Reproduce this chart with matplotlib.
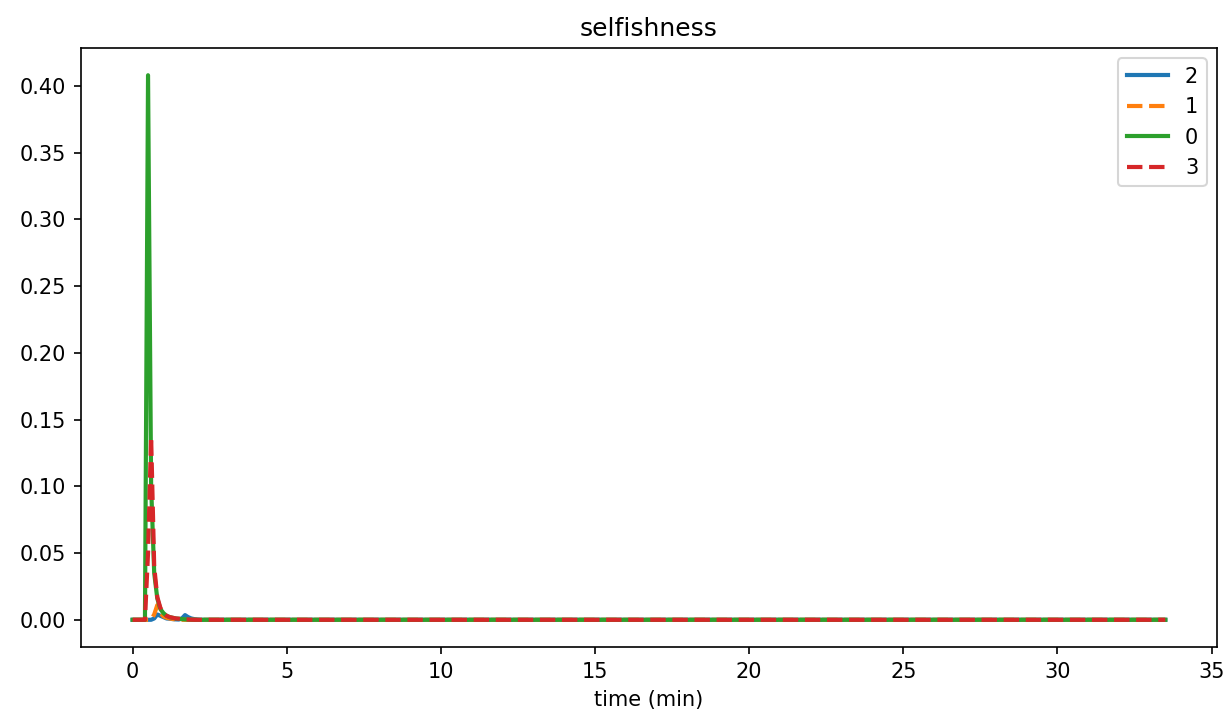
import numpy as np
import matplotlib
matplotlib.use("Agg")
import matplotlib.pyplot as plt

# time axis (min), sampled every 0.1 min
t_end = 33.5
dt = 0.1

# early part of each series (t = 0.0 ... 2.4), everything after reads as 0
sel_2 = [0, 0, 0, 0, 0, 0, 0, 0.001, 0.004, 0.003, 0.002, 0.001, 0.0008, 0.0005, 0.0003,
         0.0002, 0.001, 0.0035, 0.002, 0.001, 0.0005, 0.0002, 0, 0, 0]
sel_1 = [0, 0, 0, 0, 0, 0, 0, 0.004, 0.011, 0.005, 0.0025, 0.0015, 0.001, 0.0006, 0.0003,
         0.0002, 0, 0, 0, 0, 0, 0, 0, 0, 0]
sel_0 = [0, 0, 0, 0, 0, 0.408, 0.10, 0.035, 0.016, 0.008, 0.005, 0.003, 0.002, 0.0015, 0.001,
         0.0008, 0.0005, 0.0003, 0.0002, 0.0001, 0, 0, 0, 0, 0]
sel_3 = [0, 0, 0, 0, 0, 0.05, 0.137, 0.04, 0.017, 0.009, 0.005, 0.003, 0.002, 0.0015, 0.001,
         0.0008, 0.0005, 0.0003, 0.0002, 0.0001, 0, 0, 0, 0, 0]

labels = ['2', '1', '0', '3']
styles = ['-', '--', '-', '--']

t = np.round(np.arange(0, t_end + dt / 2, dt), 2)


def pad(vals):
    out = np.zeros(len(t))
    out[:len(vals)] = vals
    return out


series = [pad(sel_2), pad(sel_1), pad(sel_0), pad(sel_3)]

fig = plt.figure(figsize=(1229 / 150, 723 / 150), dpi=150)
ax = fig.add_axes([0.0659, 0.1051, 0.9243, 0.8285])

for y, lab, ls in zip(series, labels, styles):
    ax.plot(t, y, ls, label=lab, linewidth=2)

ax.set_title('selfishness')
ax.set_xlabel('time (min)')
ax.legend(loc='upper right')

fig.savefig('out.png', dpi=150)
